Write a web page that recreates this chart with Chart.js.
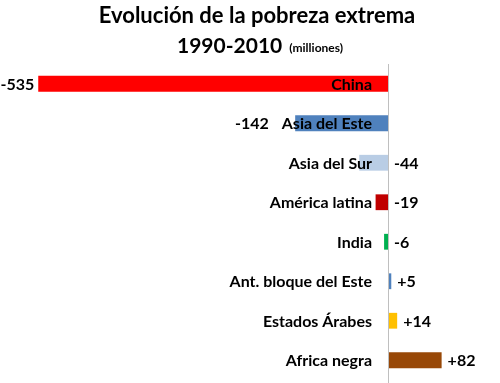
<!DOCTYPE html>
<html><head><meta charset="utf-8">
<script src="https://cdn.jsdelivr.net/npm/chart.js@4/dist/chart.umd.min.js"></script>
<style>html,body{margin:0;padding:0;background:#fff}#wrap{width:500px;height:383px}</style>
</head><body><div id="wrap"><canvas id="c" width="500" height="383"></canvas></div>
<script>
const categories = ["China","Asia del Este","Asia del Sur","América latina","India","Ant. bloque del Este","Estados Árabes","Africa negra"];
const values = [-535,-142,-44,-19,-6,5,14,82];
const valueLabels = ["-535","-142","-44","-19","-6","+5","+14","+82"];
const colors = ["#FF0000","#4F81BD","#B9CDE5","#C00000","#00B050","#4F81BD","#FFC000","#984807"];
const titleLine1 = "Evolución de la pobreza extrema";
const titleLine2 = "1990-2010";
const titleUnit = "(milliones)";

const FONT = "Lato, 'Open Sans', sans-serif";

const drawPlugin = {
  id: 'draw',
  afterDraw(chart) {
    const ctx = chart.ctx, xs = chart.scales.x, ys = chart.scales.y;
    const zero = xs.getPixelForValue(0);
    ctx.save();
    // axis line
    ctx.strokeStyle = '#BFBFBF'; ctx.lineWidth = 1;
    ctx.beginPath(); ctx.moveTo(Math.round(zero)+0.5, chart.chartArea.top); ctx.lineTo(Math.round(zero)+0.5, chart.height); ctx.stroke();
    // title
    ctx.fillStyle = '#000'; ctx.textBaseline = 'middle';
    ctx.font = "bold 22px " + FONT; ctx.textAlign = 'center';
    ctx.fillText(titleLine1, 257, 16);
    ctx.font = "bold 21px " + FONT;
    const w2 = ctx.measureText(titleLine2).width;
    ctx.font = "bold 12px " + FONT;
    const w3 = ctx.measureText(titleUnit).width;
    const gap = 7, total = w2 + gap + w3, start = 260 - total/2;
    ctx.textAlign = 'left';
    ctx.font = "bold 21px " + FONT; ctx.fillText(titleLine2, start, 46);
    ctx.font = "bold 12px " + FONT; ctx.fillText(titleUnit, start + w2 + gap, 48);
    // labels
    ctx.font = "bold 16px " + FONT;
    const labelRight = zero - 16;
    categories.forEach((cat, i) => {
      const y = ys.getPixelForValue(i) + 1;
      ctx.textAlign = 'right'; ctx.fillStyle = '#000';
      ctx.fillText(cat, labelRight, y);
      const catLeft = labelRight - ctx.measureText(cat).width;
      const end = xs.getPixelForValue(values[i]);
      if (values[i] < -100) {
        ctx.textAlign = 'right';
        ctx.fillText(valueLabels[i], Math.min(end - 4, catLeft - 13), y);
      } else {
        ctx.textAlign = 'left';
        ctx.fillText(valueLabels[i], Math.max(zero, end) + 6, y);
      }
    });
    ctx.restore();
  }
};

new Chart(document.getElementById('c'), {
  type: 'bar',
  data: { labels: categories, datasets: [{ data: values, backgroundColor: colors, borderWidth: 0, barPercentage: 0.4, categoryPercentage: 1.0 }] },
  options: {
    indexAxis: 'y', responsive: false, animation: false,
    layout: { padding: { top: 64, bottom: 3, left: 0, right: 0 } },
    plugins: { legend: { display: false }, tooltip: { enabled: false } },
    scales: {
      x: { min: -593.5, max: 171.3, display: false },
      y: { display: false }
    }
  },
  plugins: [drawPlugin]
});
</script></body></html>
